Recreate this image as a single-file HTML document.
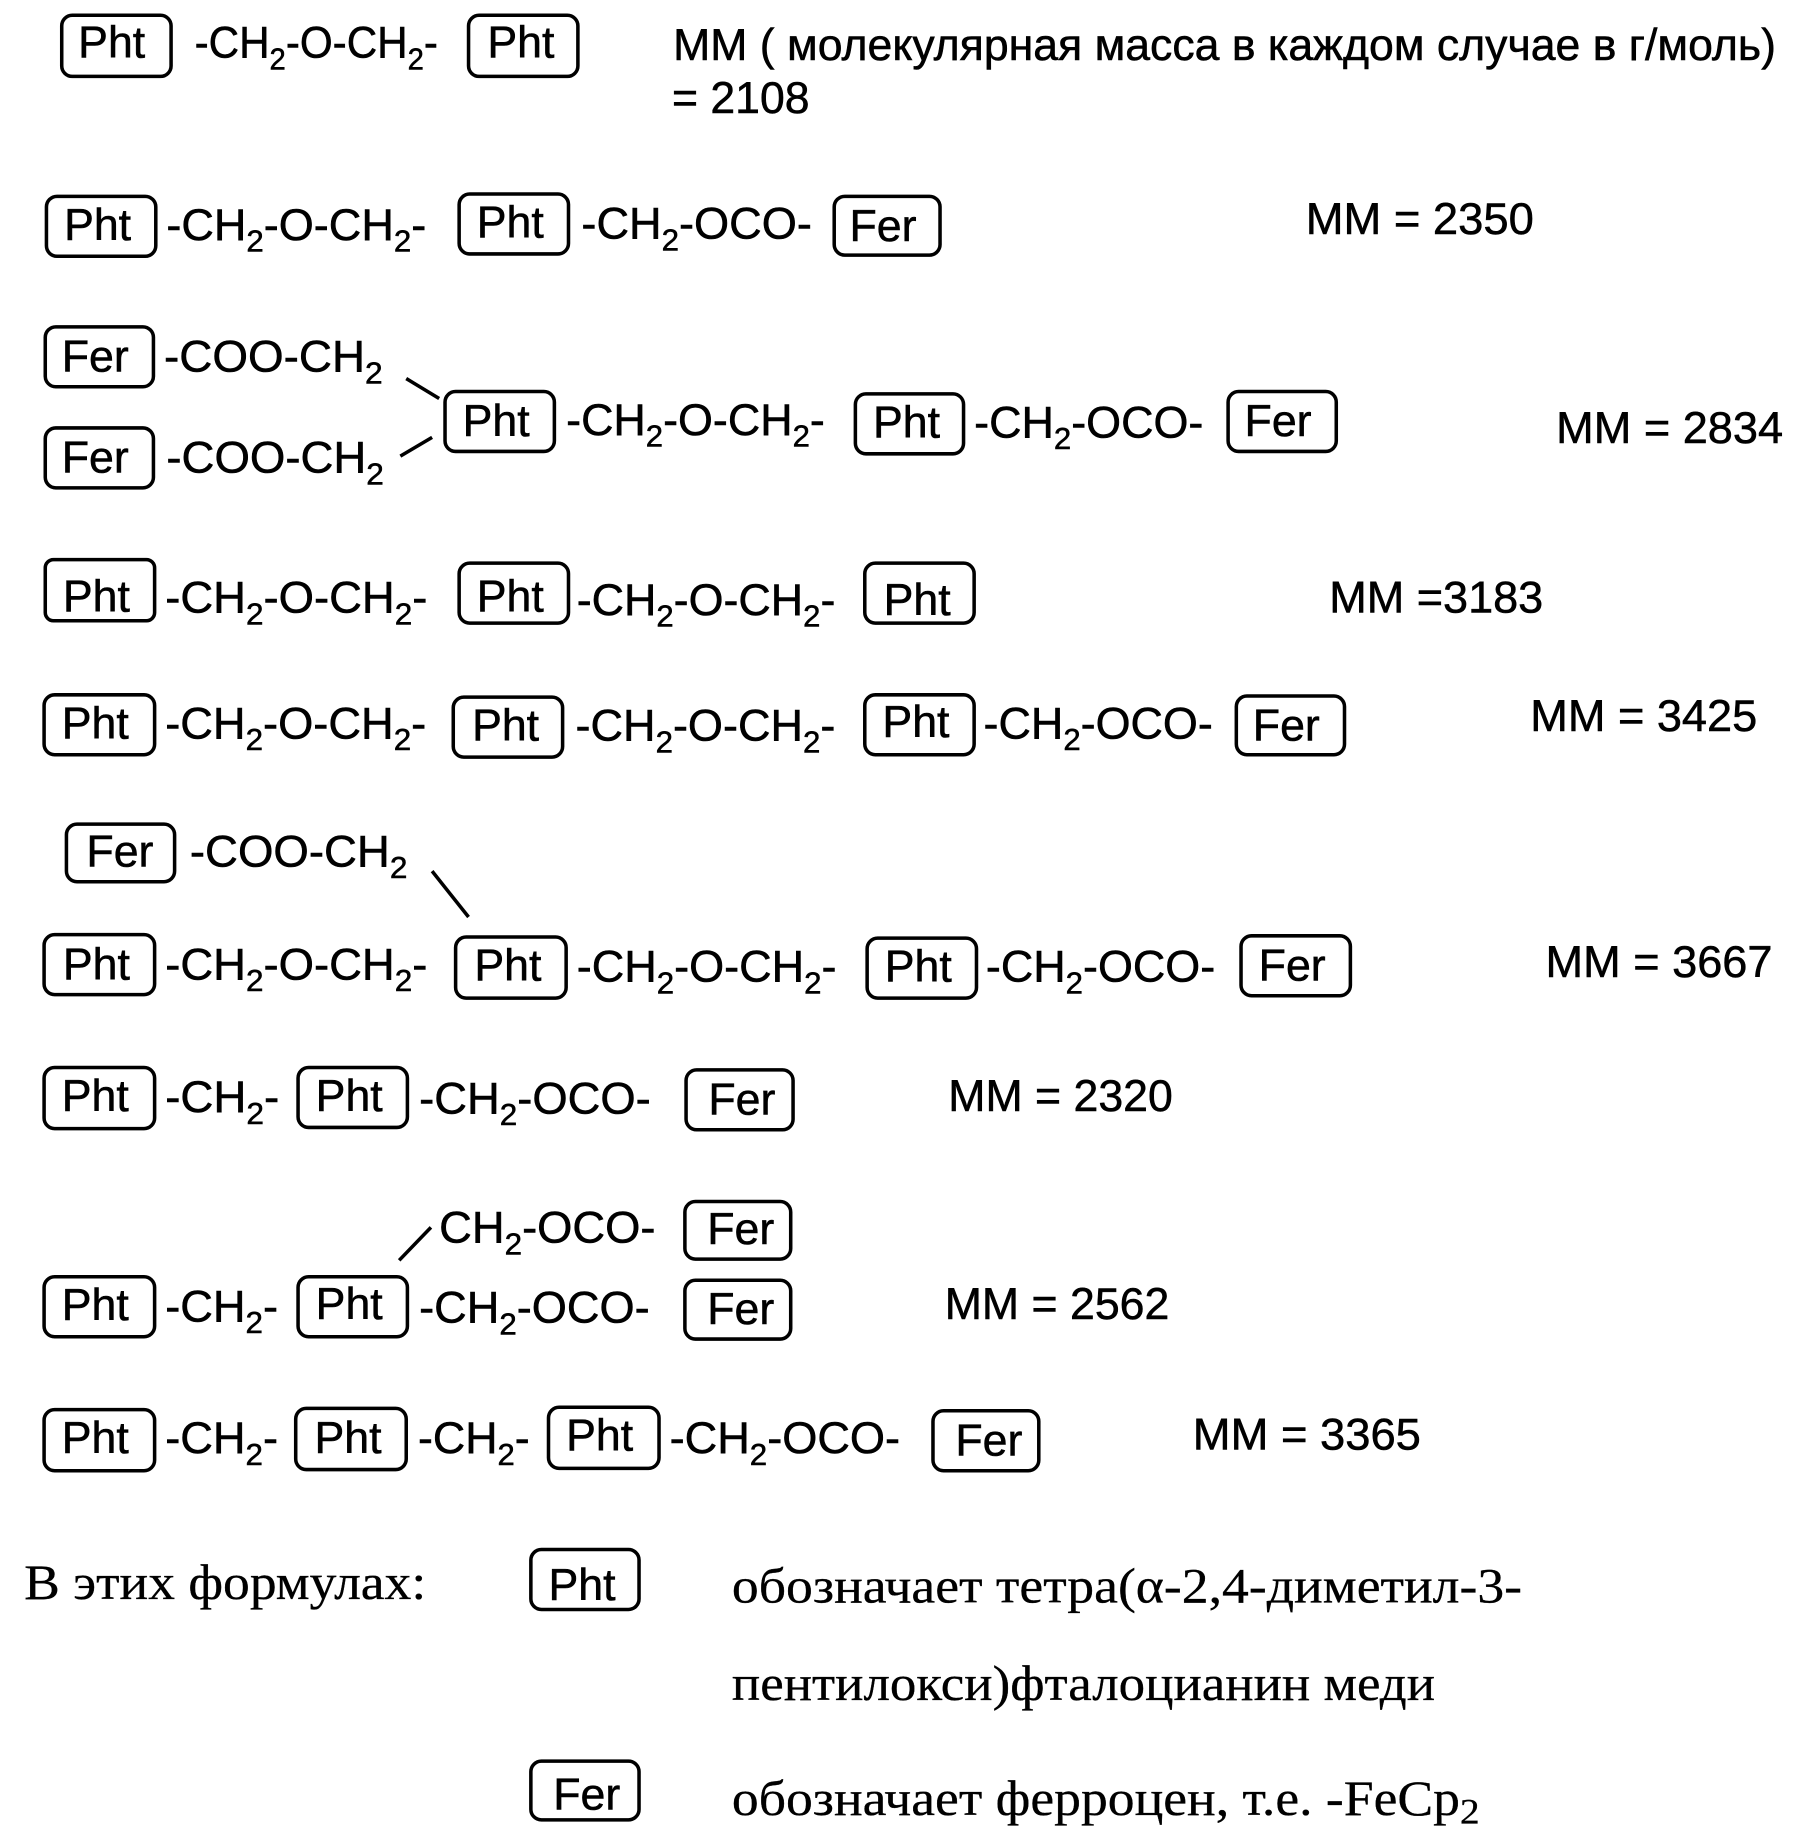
<!DOCTYPE html>
<html lang="ru"><head><meta charset="utf-8"><title>Formulas</title>
<style>
html,body{margin:0;padding:0;background:#fff}
svg{display:block}
text{font-family:"Liberation Sans",sans-serif;font-size:37.5px;fill:#000;stroke:#000;stroke-width:.45}
.s{font-family:"Liberation Serif",serif;font-size:42px;stroke-width:.25}
.u{font-size:26px}
rect{fill:none;stroke:#000;stroke-width:3}
line{stroke:#000;stroke-width:3}
</style></head><body>
<svg xmlns="http://www.w3.org/2000/svg" width="1796" height="1844" viewBox="0 0 1527.5 1568.5" preserveAspectRatio="none">
<g transform="translate(0.5 0)">
<!-- row 1 -->
<rect x="52" y="13" width="93" height="52" rx="9"/><text x="66" y="49" textLength="57" lengthAdjust="spacingAndGlyphs">Pht</text>
<text x="165" y="49" textLength="207" lengthAdjust="spacingAndGlyphs">-CH<tspan class="u" dy="10">2</tspan><tspan dy="-10">-O-CH</tspan><tspan class="u" dy="10">2</tspan><tspan dy="-10">-</tspan></text>
<rect x="398" y="13" width="93" height="52" rx="9"/><text x="414" y="49" textLength="57" lengthAdjust="spacingAndGlyphs">Pht</text>
<text x="572" y="51" textLength="938" lengthAdjust="spacingAndGlyphs">ММ ( молекулярная масса в каждом случае в г/моль)</text>
<text x="571" y="96" textLength="117" lengthAdjust="spacingAndGlyphs">= 2108</text>
<!-- row 2 -->
<rect x="39" y="167" width="93" height="51" rx="9"/><text x="54" y="204" textLength="57" lengthAdjust="spacingAndGlyphs">Pht</text>
<text x="141" y="204" textLength="221" lengthAdjust="spacingAndGlyphs">-CH<tspan class="u" dy="10">2</tspan><tspan dy="-10">-O-CH</tspan><tspan class="u" dy="10">2</tspan><tspan dy="-10">-</tspan></text>
<rect x="390" y="165" width="93" height="51" rx="9"/><text x="405" y="202" textLength="57" lengthAdjust="spacingAndGlyphs">Pht</text>
<text x="494" y="203" textLength="196" lengthAdjust="spacingAndGlyphs">-CH<tspan class="u" dy="10">2</tspan><tspan dy="-10">-OCO-</tspan></text>
<rect x="709" y="167" width="90" height="50" rx="9"/><text x="722" y="205" textLength="57" lengthAdjust="spacingAndGlyphs">Fer</text>
<text x="1110" y="199" textLength="194" lengthAdjust="spacingAndGlyphs">ММ = 2350</text>
<!-- row 3 -->
<rect x="38" y="278" width="92" height="51" rx="9"/><text x="52" y="316" textLength="57" lengthAdjust="spacingAndGlyphs">Fer</text>
<text x="139" y="316" textLength="186" lengthAdjust="spacingAndGlyphs">-COO-CH<tspan class="u" dy="10">2</tspan></text>
<rect x="38" y="364" width="92" height="51" rx="9"/><text x="52" y="402" textLength="57" lengthAdjust="spacingAndGlyphs">Fer</text>
<text x="141" y="402" textLength="185" lengthAdjust="spacingAndGlyphs">-COO-CH<tspan class="u" dy="10">2</tspan></text>
<line x1="345" y1="322" x2="373" y2="339"/><line x1="340" y1="388" x2="367" y2="372"/>
<rect x="378" y="333" width="93" height="51" rx="9"/><text x="393" y="371" textLength="57" lengthAdjust="spacingAndGlyphs">Pht</text>
<text x="481" y="370" textLength="220" lengthAdjust="spacingAndGlyphs">-CH<tspan class="u" dy="10">2</tspan><tspan dy="-10">-O-CH</tspan><tspan class="u" dy="10">2</tspan><tspan dy="-10">-</tspan></text>
<rect x="727" y="335" width="92" height="51" rx="9"/><text x="742" y="372" textLength="57" lengthAdjust="spacingAndGlyphs">Pht</text>
<text x="828" y="372" textLength="195" lengthAdjust="spacingAndGlyphs">-CH<tspan class="u" dy="10">2</tspan><tspan dy="-10">-OCO-</tspan></text>
<rect x="1044" y="333" width="92" height="51" rx="9"/><text x="1058" y="371" textLength="57" lengthAdjust="spacingAndGlyphs">Fer</text>
<text x="1323" y="377" textLength="193" lengthAdjust="spacingAndGlyphs">ММ = 2834</text>
<!-- row 4 -->
<rect x="38" y="476" width="93" height="52" rx="7"/><text x="53" y="520" textLength="57" lengthAdjust="spacingAndGlyphs">Pht</text>
<text x="140" y="521" textLength="223" lengthAdjust="spacingAndGlyphs">-CH<tspan class="u" dy="10">2</tspan><tspan dy="-10">-O-CH</tspan><tspan class="u" dy="10">2</tspan><tspan dy="-10">-</tspan></text>
<rect x="390" y="479" width="93" height="51" rx="9"/><text x="405" y="520" textLength="57" lengthAdjust="spacingAndGlyphs">Pht</text>
<text x="490" y="523" textLength="220" lengthAdjust="spacingAndGlyphs">-CH<tspan class="u" dy="10">2</tspan><tspan dy="-10">-O-CH</tspan><tspan class="u" dy="10">2</tspan><tspan dy="-10">-</tspan></text>
<rect x="735" y="479" width="93" height="51" rx="9"/><text x="751" y="523" textLength="57" lengthAdjust="spacingAndGlyphs">Pht</text>
<text x="1130" y="521" textLength="182" lengthAdjust="spacingAndGlyphs">ММ =3183</text>
<!-- row 5 -->
<rect x="37" y="591" width="94" height="51" rx="9"/><text x="52" y="628" textLength="57" lengthAdjust="spacingAndGlyphs">Pht</text>
<text x="140" y="628" textLength="222" lengthAdjust="spacingAndGlyphs">-CH<tspan class="u" dy="10">2</tspan><tspan dy="-10">-O-CH</tspan><tspan class="u" dy="10">2</tspan><tspan dy="-10">-</tspan></text>
<rect x="385" y="593" width="93" height="51" rx="9"/><text x="401" y="630" textLength="57" lengthAdjust="spacingAndGlyphs">Pht</text>
<text x="489" y="630" textLength="221" lengthAdjust="spacingAndGlyphs">-CH<tspan class="u" dy="10">2</tspan><tspan dy="-10">-O-CH</tspan><tspan class="u" dy="10">2</tspan><tspan dy="-10">-</tspan></text>
<rect x="735" y="591" width="93" height="51" rx="9"/><text x="750" y="627" textLength="57" lengthAdjust="spacingAndGlyphs">Pht</text>
<text x="836" y="628" textLength="195" lengthAdjust="spacingAndGlyphs">-CH<tspan class="u" dy="10">2</tspan><tspan dy="-10">-OCO-</tspan></text>
<rect x="1051" y="592" width="92" height="50" rx="9"/><text x="1065" y="630" textLength="57" lengthAdjust="spacingAndGlyphs">Fer</text>
<text x="1301" y="622" textLength="193" lengthAdjust="spacingAndGlyphs">ММ = 3425</text>
<!-- row 6 -->
<rect x="56" y="701" width="92" height="49" rx="9"/><text x="73" y="737" textLength="57" lengthAdjust="spacingAndGlyphs">Fer</text>
<text x="161" y="737" textLength="185" lengthAdjust="spacingAndGlyphs">-COO-CH<tspan class="u" dy="10">2</tspan></text>
<line x1="367" y1="741" x2="398" y2="780"/>
<rect x="37" y="795" width="94" height="51" rx="9"/><text x="53" y="833" textLength="57" lengthAdjust="spacingAndGlyphs">Pht</text>
<text x="140" y="833" textLength="223" lengthAdjust="spacingAndGlyphs">-CH<tspan class="u" dy="10">2</tspan><tspan dy="-10">-O-CH</tspan><tspan class="u" dy="10">2</tspan><tspan dy="-10">-</tspan></text>
<rect x="387" y="797" width="94" height="52" rx="9"/><text x="403" y="834" textLength="57" lengthAdjust="spacingAndGlyphs">Pht</text>
<text x="490" y="835" textLength="221" lengthAdjust="spacingAndGlyphs">-CH<tspan class="u" dy="10">2</tspan><tspan dy="-10">-O-CH</tspan><tspan class="u" dy="10">2</tspan><tspan dy="-10">-</tspan></text>
<rect x="737" y="798" width="93" height="51" rx="9"/><text x="752" y="835" textLength="57" lengthAdjust="spacingAndGlyphs">Pht</text>
<text x="838" y="835" textLength="195" lengthAdjust="spacingAndGlyphs">-CH<tspan class="u" dy="10">2</tspan><tspan dy="-10">-OCO-</tspan></text>
<rect x="1055" y="796" width="93" height="51" rx="9"/><text x="1070" y="834" textLength="57" lengthAdjust="spacingAndGlyphs">Fer</text>
<text x="1314" y="831" textLength="193" lengthAdjust="spacingAndGlyphs">ММ = 3667</text>
<!-- row 7 -->
<rect x="37" y="908" width="94" height="52" rx="9"/><text x="52" y="945" textLength="57" lengthAdjust="spacingAndGlyphs">Pht</text>
<text x="140" y="946" textLength="97" lengthAdjust="spacingAndGlyphs">-CH<tspan class="u" dy="10">2</tspan><tspan dy="-10">-</tspan></text>
<rect x="253" y="908" width="93" height="51" rx="9"/><text x="268" y="945" textLength="57" lengthAdjust="spacingAndGlyphs">Pht</text>
<text x="356" y="947" textLength="197" lengthAdjust="spacingAndGlyphs">-CH<tspan class="u" dy="10">2</tspan><tspan dy="-10">-OCO-</tspan></text>
<rect x="583" y="910" width="91" height="51" rx="9"/><text x="602" y="948" textLength="57" lengthAdjust="spacingAndGlyphs">Fer</text>
<text x="806" y="945" textLength="191" lengthAdjust="spacingAndGlyphs">ММ = 2320</text>
<!-- row 8 -->
<text x="373" y="1057" textLength="184" lengthAdjust="spacingAndGlyphs">CH<tspan class="u" dy="10">2</tspan><tspan dy="-10">-OCO-</tspan></text>
<line x1="339" y1="1072" x2="366" y2="1044"/>
<rect x="582" y="1022" width="90" height="49" rx="9"/><text x="601" y="1058" textLength="57" lengthAdjust="spacingAndGlyphs">Fer</text>
<rect x="37" y="1086" width="94" height="51" rx="9"/><text x="52" y="1123" textLength="57" lengthAdjust="spacingAndGlyphs">Pht</text>
<text x="140" y="1124" textLength="96" lengthAdjust="spacingAndGlyphs">-CH<tspan class="u" dy="10">2</tspan><tspan dy="-10">-</tspan></text>
<rect x="253" y="1086" width="93" height="51" rx="9"/><text x="268" y="1122" textLength="57" lengthAdjust="spacingAndGlyphs">Pht</text>
<text x="356" y="1125" textLength="196" lengthAdjust="spacingAndGlyphs">-CH<tspan class="u" dy="10">2</tspan><tspan dy="-10">-OCO-</tspan></text>
<rect x="582" y="1089" width="90" height="50" rx="9"/><text x="601" y="1126" textLength="57" lengthAdjust="spacingAndGlyphs">Fer</text>
<text x="803" y="1122" textLength="191" lengthAdjust="spacingAndGlyphs">ММ = 2562</text>
<!-- row 9 -->
<rect x="37" y="1199" width="94" height="52" rx="9"/><text x="52" y="1236" textLength="57" lengthAdjust="spacingAndGlyphs">Pht</text>
<text x="140" y="1236" textLength="96" lengthAdjust="spacingAndGlyphs">-CH<tspan class="u" dy="10">2</tspan><tspan dy="-10">-</tspan></text>
<rect x="251" y="1198" width="94" height="52" rx="9"/><text x="267" y="1236" textLength="57" lengthAdjust="spacingAndGlyphs">Pht</text>
<text x="355" y="1236" textLength="95" lengthAdjust="spacingAndGlyphs">-CH<tspan class="u" dy="10">2</tspan><tspan dy="-10">-</tspan></text>
<rect x="466" y="1197" width="94" height="52" rx="9"/><text x="481" y="1234" textLength="57" lengthAdjust="spacingAndGlyphs">Pht</text>
<text x="569" y="1236" textLength="196" lengthAdjust="spacingAndGlyphs">-CH<tspan class="u" dy="10">2</tspan><tspan dy="-10">-OCO-</tspan></text>
<rect x="793" y="1200" width="90" height="51" rx="9"/><text x="812" y="1238" textLength="57" lengthAdjust="spacingAndGlyphs">Fer</text>
<text x="1014" y="1233" textLength="194" lengthAdjust="spacingAndGlyphs">ММ = 3365</text>
<!-- legend -->
<text class="s" x="20" y="1360" textLength="342" lengthAdjust="spacingAndGlyphs">В этих формулах:</text>
<rect x="451" y="1318" width="92" height="51" rx="9"/><text x="466" y="1361" textLength="57" lengthAdjust="spacingAndGlyphs">Pht</text>
<text class="s" x="622" y="1363" textLength="672" lengthAdjust="spacingAndGlyphs">обозначает тетра(α-2,4-диметил-3-</text>
<text class="s" x="622" y="1446" textLength="598" lengthAdjust="spacingAndGlyphs">пентилокси)фталоцианин меди</text>
<rect x="451" y="1498" width="92" height="50" rx="9"/><text x="470" y="1539" textLength="57" lengthAdjust="spacingAndGlyphs">Fer</text>
<text class="s" x="622" y="1544" textLength="636" lengthAdjust="spacingAndGlyphs">обозначает ферроцен, т.е. -FeCp<tspan dy="7" style="font-size:31px">2</tspan></text>
</g>
</svg>
</body></html>
